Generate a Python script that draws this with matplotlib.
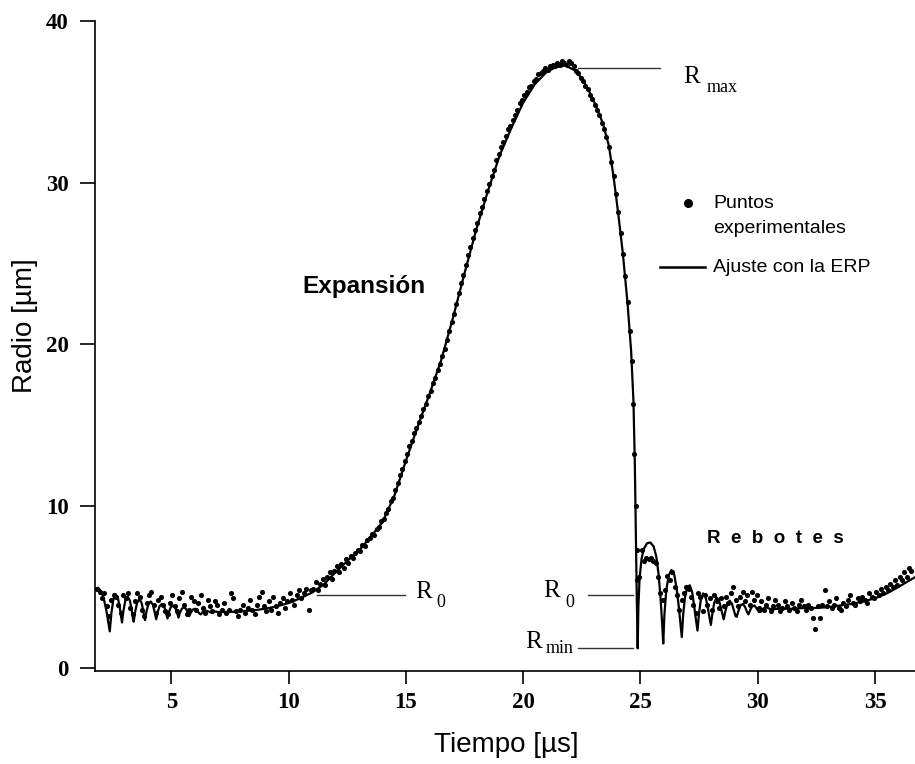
import matplotlib
matplotlib.use("Agg")
import matplotlib.pyplot as plt

# ---------------------------------------------------------------
# Bubble radius vs. time: measured points and Rayleigh-Plesset fit
# ---------------------------------------------------------------

# Fitted radius curve (time in µs, radius in µm)
fit_t = [1.76, 1.88, 2.0, 2.12, 2.24, 2.32, 2.38, 2.45, 2.53, 2.62, 2.72, 2.8, 2.86, 2.9,
         2.96, 3.04, 3.14, 3.24, 3.31, 3.36, 3.4, 3.46, 3.54, 3.64, 3.74, 3.81, 3.85, 3.88,
         3.94, 4.02, 4.12, 4.22, 4.29, 4.33, 4.36, 4.42, 4.5, 4.6, 4.7, 4.77, 4.84, 4.9,
         4.98, 5.08, 5.18, 5.25, 5.31, 5.37, 5.45, 5.55, 5.65, 5.72, 5.77, 5.83, 5.92, 6.02,
         6.12, 6.2, 6.26, 6.34, 6.44, 6.55, 6.7, 6.85, 7.0, 7.5, 8.0, 8.5, 9.0, 9.5, 10.0,
         10.5, 11.0, 11.5, 12.0, 12.5, 13.0, 13.5, 14.0, 14.5, 15.0, 15.5, 16.0, 16.5, 17.0,
         17.5, 18.0, 18.5, 19.0, 19.5, 20.0, 20.5, 21.0, 21.4, 21.8, 22.2, 22.5, 22.8, 23.1,
         23.4, 23.65, 23.85, 24.05, 24.25, 24.45, 24.6, 24.7, 24.76, 24.8, 24.84, 24.88,
         24.91, 24.96, 25.04, 25.14, 25.28, 25.42, 25.56, 25.67, 25.77, 25.85, 25.92, 25.97,
         26.02, 26.1, 26.2, 26.32, 26.44, 26.54, 26.63, 26.7, 26.76, 26.82, 26.9, 27.0, 27.1,
         27.2, 27.28, 27.36, 27.43, 27.49, 27.57, 27.67, 27.77, 27.86, 27.94, 28.0, 28.06,
         28.14, 28.24, 28.34, 28.43, 28.5, 28.55, 28.61, 28.7, 28.8, 28.9, 28.98, 29.05, 29.1,
         29.17, 29.26, 29.36, 29.46, 29.54, 29.6, 29.67, 29.76, 29.86, 29.96, 30.05, 30.12,
         30.22, 30.34, 30.5, 30.65, 30.8, 31.0, 31.5, 32.0, 32.5, 33.0, 33.5, 34.0, 34.5,
         35.0, 35.5, 36.0, 36.4, 36.7]
fit_r = [4.85, 4.95, 4.75, 4.3, 3.5, 2.8, 2.25, 3.4, 4.2, 4.55, 4.35, 3.8, 3.2, 2.8,
         3.5, 4.15, 4.4, 4.15, 3.6, 3.1, 2.85, 3.45, 4.0, 4.25, 4.0, 3.5, 3.2, 2.95,
         3.45, 3.9, 4.1, 3.9, 3.45, 3.2, 3.0, 3.45, 3.8, 3.95, 3.8, 3.4, 3.05, 3.45,
         3.75, 3.85, 3.7, 3.4, 3.1, 3.4, 3.65, 3.75, 3.6, 3.35, 3.2, 3.4, 3.6, 3.65,
         3.5, 3.35, 3.3, 3.45, 3.55, 3.5, 3.42, 3.48, 3.45, 3.45, 3.5, 3.55, 3.65, 3.8, 4.0,
         4.3, 4.65, 5.15, 5.9, 6.6, 7.25, 8.1, 9.0, 10.6, 12.8, 14.9, 16.9, 19.0, 21.6,
         24.4, 27.1, 29.5, 31.7, 33.4, 34.95, 36.1, 36.85, 37.15, 37.25, 36.95, 36.45, 35.7, 34.75,
         33.65, 32.3, 30.4, 28.1, 25.6, 22.5, 19.6, 16.5, 12.5, 8.5, 4.5, 1.2,
         3.8, 5.5, 6.7, 7.35, 7.7, 7.75, 7.5, 6.9, 5.8, 4.4, 2.8, 1.5,
         3.3, 4.8, 5.7, 6.05, 5.75, 4.9, 3.8, 2.8, 1.9, 3.3, 4.4, 5.0, 5.1,
         4.7, 3.9, 3.0, 2.3, 3.3, 4.2, 4.6, 4.4, 3.8, 3.1, 2.65, 3.3,
         4.0, 4.35, 4.2, 3.7, 3.25, 3.0, 3.45, 3.95, 4.15, 3.95, 3.55, 3.2, 3.15,
         3.5, 3.85, 3.95, 3.75, 3.45, 3.3, 3.55, 3.8, 3.85, 3.65, 3.45, 3.45,
         3.65, 3.75, 3.65, 3.6, 3.65, 3.65, 3.65, 3.7, 3.7, 3.75, 3.85, 3.95, 4.1,
         4.3, 4.6, 5.0, 5.35, 5.6]

# Measured radii, before the expansion
base_t = [1.85, 1.95, 2.05, 2.15, 2.25, 2.35, 2.45, 2.55, 2.65, 2.75,
          2.85, 2.95, 3.05, 3.15, 3.25, 3.35, 3.45, 3.55, 3.65, 3.75,
          3.85, 3.95, 4.05, 4.15, 4.25, 4.35, 4.45, 4.55, 4.65, 4.75,
          4.85, 4.95, 5.05, 5.15, 5.25, 5.35, 5.45, 5.55, 5.65, 5.75,
          5.85, 5.95, 6.05, 6.15, 6.25, 6.35, 6.45, 6.55, 6.65, 6.75,
          6.85, 6.95, 7.05, 7.15, 7.25, 7.35, 7.45, 7.55, 7.65, 7.75,
          7.85, 7.95, 8.05, 8.15, 8.25, 8.35, 8.45, 8.55, 8.65, 8.75,
          8.85, 8.95, 9.05, 9.15, 9.25, 9.35, 9.45, 9.55, 9.65, 9.75,
          9.85, 9.95, 10.05, 10.15, 10.25, 10.35, 10.45, 10.55, 10.65, 10.75,
          10.85, 10.95]
base_r = [4.9, 4.7, 4.3, 4.6, 3.8, 3.2, 4.2, 4.5, 4.4, 3.9,
          3.4, 4.5, 4.3, 4.6, 3.7, 3.3, 4.1, 4.6, 4.4, 3.6,
          3.2, 4.0, 4.5, 4.7, 3.9, 3.4, 4.2, 4.4, 3.9, 3.5,
          3.3, 4.0, 4.5, 3.8, 3.5, 4.3, 4.7, 3.9, 3.3, 3.6,
          4.4, 4.1, 3.6, 4.0, 4.5, 3.7, 3.4, 4.2, 3.8, 3.5,
          4.1, 3.9, 3.3, 3.6, 4.0, 3.4, 3.6, 4.6, 4.3, 3.5,
          3.2, 3.6, 3.9, 3.4, 3.7, 4.2, 3.6, 3.3, 3.9, 4.4,
          4.7, 3.8, 3.5, 4.1, 3.6, 4.4, 3.8, 3.4, 4.0, 4.3,
          3.7, 4.1, 4.6, 4.2, 3.9, 4.5, 4.8, 4.3, 4.6, 4.9,
          3.6, 4.8]

# Measured radii, expansion up to the maximum
grow_t = [11.05, 11.15, 11.25, 11.35, 11.45, 11.55, 11.65, 11.75, 11.85, 11.95,
          12.05, 12.15, 12.25, 12.35, 12.45, 12.55, 12.65, 12.75, 12.85, 12.95,
          13.05, 13.15, 13.25, 13.35, 13.45, 13.55, 13.65, 13.75, 13.85, 13.95,
          14.05, 14.15, 14.25, 14.35, 14.45, 14.55, 14.65, 14.75, 14.85, 14.95,
          15.05, 15.15, 15.25, 15.35, 15.45, 15.55, 15.65, 15.75, 15.85, 15.95,
          16.05, 16.15, 16.25, 16.35, 16.45, 16.55, 16.65, 16.75, 16.85, 16.95,
          17.05, 17.15, 17.25, 17.35, 17.45, 17.55, 17.65, 17.75, 17.85, 17.95,
          18.05, 18.15, 18.25, 18.35, 18.45, 18.55, 18.65, 18.75, 18.85, 18.95,
          19.05, 19.15, 19.25, 19.35, 19.45, 19.55, 19.65, 19.75, 19.85, 19.95,
          20.05, 20.15, 20.25, 20.35, 20.45, 20.55, 20.65, 20.75, 20.85, 20.95,
          21.05, 21.15, 21.25, 21.35, 21.45, 21.55, 21.65, 21.75]
grow_r = [4.9, 5.3, 4.8, 5.2, 5.5, 5.1, 5.6, 5.9, 5.5, 6.0,
          6.3, 5.9, 6.4, 6.2, 6.7, 6.5, 6.9, 6.8, 7.1, 7.3,
          7.2, 7.6, 7.5, 7.9, 8.0, 8.3, 8.2, 8.6, 8.7, 9.1,
          9.2, 9.6, 9.8, 10.3, 10.5, 11.0, 11.4, 11.9, 12.3, 12.8,
          13.2, 13.7, 14.0, 14.5, 14.8, 15.2, 15.6, 16.0, 16.3, 16.8,
          17.1, 17.6, 17.9, 18.4, 18.8, 19.3, 19.7, 20.3, 20.8, 21.4,
          21.9, 22.5, 23.2, 23.8, 24.3, 24.9, 25.5, 26.0, 26.6, 27.1,
          27.5, 28.1, 28.5, 29.0, 29.5, 29.9, 30.4, 30.8, 31.4, 31.8,
          32.2, 32.5, 32.9, 33.3, 33.5, 33.9, 34.2, 34.5, 34.9, 35.1,
          35.4, 35.6, 35.9, 36.0, 36.3, 36.4, 36.7, 36.8, 36.9, 37.1,
          37.0, 37.2, 37.3, 37.2, 37.4, 37.3, 37.5, 37.4]

# Measured radii, collapse
fall_t = [21.85, 21.95, 22.05, 22.15, 22.25, 22.35, 22.45, 22.55, 22.65, 22.75,
          22.85, 22.95, 23.05, 23.15, 23.25, 23.35, 23.45, 23.55, 23.65, 23.75,
          23.85, 23.95, 24.05, 24.15, 24.25, 24.35, 24.45, 24.55,
          24.62, 24.68, 24.74, 24.79, 24.83, 24.86]
fall_r = [37.3, 37.5, 37.4, 37.2, 36.9, 36.8, 36.5, 36.3, 36.0, 35.8,
          35.4, 35.2, 34.8, 34.5, 34.2, 33.7, 33.3, 32.8, 32.2, 31.3,
          30.4, 29.3, 28.2, 26.9, 25.6, 24.2, 22.6, 20.8,
          19.0, 16.3, 13.2, 10.0, 7.3, 5.4]

# Measured radii, rebounds
bounce_t = [24.95, 25.05, 25.15, 25.25, 25.35, 25.45, 25.55, 25.65, 25.75, 25.85,
            25.95, 26.05, 26.15, 26.25, 26.35, 26.45, 26.55, 26.65, 26.75, 26.85,
            26.95, 27.05, 27.15, 27.25, 27.35, 27.45, 27.55, 27.65, 27.75, 27.85,
            27.95, 28.05, 28.15, 28.25, 28.35, 28.45, 28.55, 28.65, 28.75, 28.85,
            28.95, 29.05, 29.15, 29.25, 29.35, 29.45, 29.55, 29.65, 29.75, 29.85,
            29.95, 30.05, 30.15, 30.25, 30.35, 30.45, 30.55, 30.65, 30.75, 30.85,
            30.95, 31.05, 31.15, 31.25, 31.35, 31.45, 31.55, 31.65, 31.75, 31.85,
            31.95, 32.05, 32.15, 32.25, 32.35, 32.45, 32.55, 32.65, 32.75, 32.85,
            32.95, 33.05, 33.15, 33.25, 33.35, 33.45, 33.55, 33.65, 33.75, 33.85,
            33.95, 34.05, 34.15, 34.25, 34.35, 34.45, 34.55, 34.65, 34.75, 34.85,
            34.95, 35.05, 35.15, 35.25, 35.35, 35.45, 35.55, 35.65, 35.75, 35.85,
            35.95, 36.05, 36.15, 36.25, 36.35, 36.45, 36.55]
bounce_r = [5.6, 7.3, 6.6, 6.8, 6.7, 6.8, 6.6, 6.5, 5.6, 4.6,
            4.2, 4.8, 5.7, 5.4, 5.9, 5.0, 4.5, 3.6, 4.2, 4.6,
            5.0, 4.9, 4.4, 3.9, 3.4, 4.6, 4.4, 3.5, 4.5, 3.9,
            4.3, 3.6, 4.5, 4.1, 3.7, 4.3, 3.8, 4.4, 4.0, 4.6,
            5.0, 4.2, 3.8, 4.4, 4.7, 4.1, 4.5, 3.9, 4.7, 4.2,
            4.5, 3.7, 4.1, 3.6, 3.9, 4.3, 3.5, 3.8, 4.2, 3.9,
            3.5, 3.7, 4.1, 3.8, 3.6, 4.0, 3.7, 3.5, 3.9, 4.2,
            3.8, 3.6, 3.9, 3.7, 3.1, 2.4, 3.8, 3.1, 3.9, 4.8,
            3.8, 4.1, 3.7, 3.9, 4.3, 3.7, 3.6, 4.0, 3.8, 4.2,
            4.5, 4.0, 3.9, 4.3, 4.1, 4.4, 4.2, 4.0, 4.6, 4.4,
            4.3, 4.7, 4.5, 4.9, 4.6, 5.0, 4.8, 5.2, 5.0, 5.4,
            5.1, 5.6, 5.4, 5.9, 5.6, 6.2, 6.0]

# Characteristic radii marked on the plot
R_MAX = 37.1
R_0 = 4.5
R_MIN = 1.22

x_ticks = [5, 10, 15, 20, 25, 30, 35]
y_ticks = [0, 10, 20, 30, 40]

# ---------------------------------------------------------------
W, H, DPI = 915, 764, 100
fig = plt.figure(figsize=(W / DPI, H / DPI), dpi=DPI)
ax = fig.add_axes([95 / W, 1 - 671 / H, 820 / W, 650 / H])

SANS = ["Liberation Sans", "DejaVu Sans"]
SERIF = ["Liberation Serif", "DejaVu Serif"]

ax.plot(fit_t, fit_r, color="black", lw=1.6, zorder=3)
for tt, rr in ((base_t, base_r), (grow_t, grow_r), (fall_t, fall_r), (bounce_t, bounce_r)):
    ax.plot(tt, rr, linestyle="none", marker="o", ms=3.7, mec="black", mfc="black",
            mew=0, zorder=4)

ax.set_xlim(1.75, 36.7)
ax.set_ylim(-0.2, 40)
ax.set_xticks(x_ticks)
ax.set_yticks(y_ticks)
ax.set_xticklabels([str(v) for v in x_ticks], family=SERIF, fontweight="bold", fontsize=16.5)
ax.set_yticklabels([str(v) for v in y_ticks], family=SERIF, fontweight="bold", fontsize=16.5)
ax.tick_params(axis="x", direction="out", length=9, width=1.2, pad=6)
ax.tick_params(axis="y", direction="out", length=11, width=1.2, pad=8)

for side in ("top", "right"):
    ax.spines[side].set_visible(False)
for side in ("left", "bottom"):
    ax.spines[side].set_linewidth(1.2)

ax.set_xlabel("Tiempo [µs]", family=SANS, fontsize=20)
ax.set_ylabel("Radio [µm]", family=SANS, fontsize=20)
ax.xaxis.label.set_va("center")
ax.yaxis.label.set_va("center")
ax.xaxis.set_label_coords(0.502, -0.1146)
ax.yaxis.set_label_coords(-0.0854, 0.531)

# reference lines for the characteristic radii
ref = dict(color="#333333", lw=1.0, zorder=2)
ax.plot([22.35, 25.84], [R_MAX, R_MAX], **ref)
ax.plot([11.22, 14.97], [R_0, R_0], **ref)
ax.plot([22.78, 24.69], [R_0, R_0], **ref)
ax.plot([22.35, 24.69], [R_MIN, R_MIN], **ref)

def radius_label(x, y, sub, xs, ys):
    ax.text(x, y, "R", family=SERIF, fontsize=18, ha="left", va="baseline")
    ax.text(xs, ys, sub, family=SERIF, fontsize=13, ha="left", va="baseline")

radius_label(26.82, 36.16, "max", 27.80, 35.62)
radius_label(15.40, 4.33, "0", 16.30, 3.77)
radius_label(20.86, 4.39, "0", 21.80, 3.77)
radius_label(20.09, 1.24, "min", 20.94, 0.93)

# phase annotations
ax.text(10.57, 23.17, "Expansión", family=SANS, fontweight="bold", fontsize=17.5,
        ha="left", va="baseline")
ax.text(27.83, 7.73, "R  e  b  o  t  e  s", family=SANS, fontweight="bold", fontsize=13.5,
        ha="left", va="baseline")

# legend
ax.plot([27.03], [28.76], marker="o", ms=5.5, color="black", linestyle="none")
ax.text(28.09, 28.43, "Puntos", family=SANS, fontsize=14, ha="left", va="baseline")
ax.text(28.09, 26.88, "experimentales", family=SANS, fontsize=14, ha="left", va="baseline")
ax.plot([25.83, 27.75], [24.77, 24.77], color="black", lw=1.8)
ax.text(28.09, 24.45, "Ajuste con la ERP", family=SANS, fontsize=14, ha="left", va="baseline")

fig.savefig("out.png", dpi=DPI)
